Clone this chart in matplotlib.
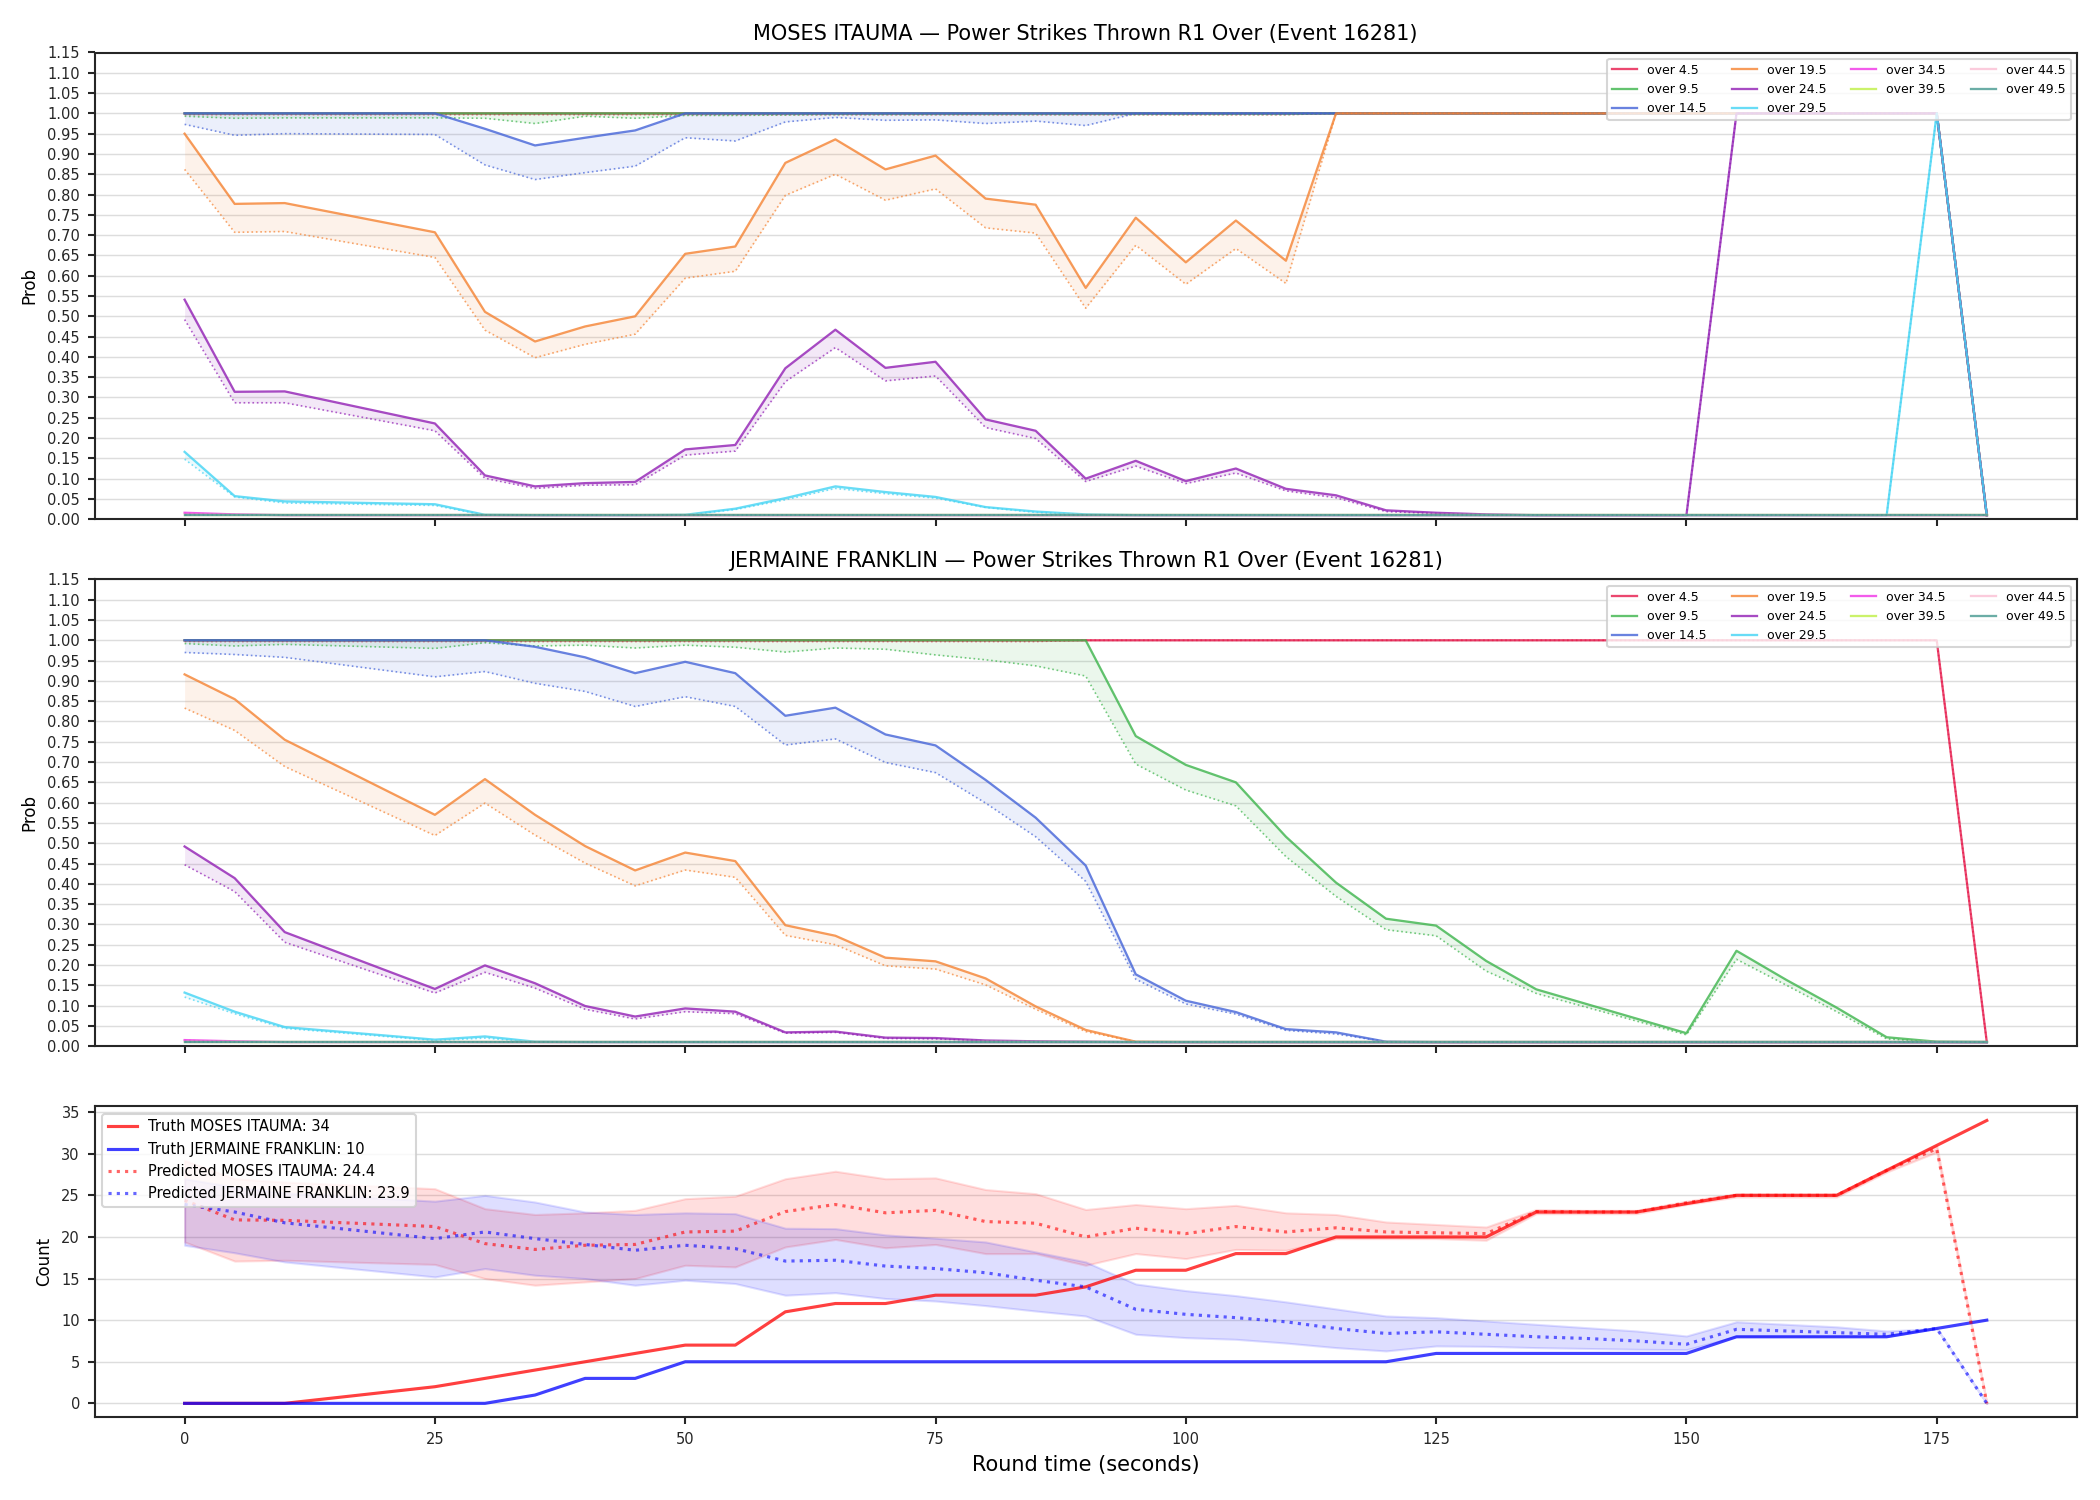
import matplotlib
matplotlib.use("Agg")
import matplotlib.pyplot as plt
from matplotlib.ticker import MultipleLocator, FormatStrFormatter

# round time samples (15 and 20 are missing in the source)
times = [0, 5, 10, 25, 30, 35, 40, 45, 50, 55, 60, 65, 70, 75, 80, 85, 90, 95, 100,
         105, 110, 115, 120, 125, 130, 135, 140, 145, 150, 155, 160, 165, 170, 175, 180]

lines = ["over 4.5", "over 9.5", "over 14.5", "over 19.5", "over 24.5",
         "over 29.5", "over 34.5", "over 39.5", "over 44.5", "over 49.5"]
line_colors = ["#e6194B", "#3cb44b", "#4363d8", "#f58231", "#911eb4",
               "#42d4f4", "#f032e6", "#bfef45", "#fabed4", "#469990"]

floor = [0.01, 0.01, 0.01, 0.01, 0.01, 0.01, 0.01, 0.01, 0.01, 0.01, 0.01, 0.01,
         0.01, 0.01, 0.01, 0.01, 0.01, 0.01, 0.01, 0.01, 0.01, 0.01, 0.01, 0.01,
         0.01, 0.01, 0.01, 0.01, 0.01, 0.01, 0.01, 0.01, 0.01, 0.01, 0.01]

# ---- MOSES ITAUMA: live prob (solid) and pre-fight prob (dotted) ----
moses_live = {
    "over 4.5": [1, 1, 1, 1, 1, 1, 1, 1, 1, 1, 1, 1, 1, 1, 1, 1, 1, 1, 1, 1, 1, 1, 1, 1,
                 1, 1, 1, 1, 1, 1, 1, 1, 1, 1, 0.01],
    "over 9.5": [1, 1, 1, 1, 1, 1, 1, 1, 1, 1, 1, 1, 1, 1, 1, 1, 1, 1, 1, 1, 1, 1, 1, 1,
                 1, 1, 1, 1, 1, 1, 1, 1, 1, 1, 0.01],
    "over 14.5": [1, 1, 1, 1, 0.962, 0.921, 0.940, 0.958, 1, 1, 1, 1, 1, 1, 1, 1, 1, 1,
                  1, 1, 1, 1, 1, 1, 1, 1, 1, 1, 1, 1, 1, 1, 1, 1, 0.01],
    "over 19.5": [0.950, 0.777, 0.779, 0.707, 0.511, 0.438, 0.475, 0.500, 0.654, 0.672,
                  0.878, 0.936, 0.862, 0.896, 0.790, 0.775, 0.570, 0.743, 0.633, 0.736,
                  0.637, 1, 1, 1, 1, 1, 1, 1, 1, 1, 1, 1, 1, 1, 0.01],
    "over 24.5": [0.541, 0.314, 0.315, 0.236, 0.108, 0.081, 0.089, 0.092, 0.172, 0.183,
                  0.372, 0.467, 0.373, 0.388, 0.246, 0.218, 0.100, 0.144, 0.094, 0.125,
                  0.075, 0.059, 0.022, 0.016, 0.012, 0.01, 0.01, 0.01, 0.01, 1, 1, 1, 1,
                  1, 0.01],
    "over 29.5": [0.166, 0.057, 0.044, 0.037, 0.011, 0.01, 0.01, 0.01, 0.011, 0.026,
                  0.052, 0.081, 0.067, 0.055, 0.030, 0.019, 0.012, 0.01, 0.01, 0.01,
                  0.01, 0.01, 0.01, 0.01, 0.01, 0.01, 0.01, 0.01, 0.01, 0.01, 0.01, 0.01,
                  0.01, 1, 0.01],
    "over 34.5": [0.016, 0.012, 0.01, 0.01, 0.01, 0.01, 0.01, 0.01, 0.01, 0.01, 0.01,
                  0.01, 0.01, 0.01, 0.01, 0.01, 0.01, 0.01, 0.01, 0.01, 0.01, 0.01, 0.01,
                  0.01, 0.01, 0.01, 0.01, 0.01, 0.01, 0.01, 0.01, 0.01, 0.01, 0.01, 0.01],
    "over 39.5": floor,
    "over 44.5": floor,
    "over 49.5": floor,
}
moses_pre = {
    "over 4.5": [0.997, 0.997, 0.997, 0.997, 0.997, 0.997, 0.997, 0.997, 0.997, 0.997,
                 0.997, 0.997, 0.997, 0.997, 0.997, 0.997, 0.997, 0.997, 0.997, 0.997,
                 0.997, 1, 1, 1, 1, 1, 1, 1, 1, 1, 1, 1, 1, 1, 0.01],
    "over 9.5": [0.993, 0.988, 0.989, 0.989, 0.988, 0.975, 0.993, 0.988, 0.995, 0.995,
                 0.996, 0.997, 0.997, 0.997, 0.997, 0.997, 0.997, 0.997, 0.997, 0.997,
                 0.997, 1, 1, 1, 1, 1, 1, 1, 1, 1, 1, 1, 1, 1, 0.01],
    "over 14.5": [0.973, 0.946, 0.950, 0.948, 0.873, 0.837, 0.854, 0.870, 0.940, 0.932,
                  0.979, 0.990, 0.983, 0.984, 0.975, 0.981, 0.970, 1, 1, 1, 1, 1, 1, 1,
                  1, 1, 1, 1, 1, 1, 1, 1, 1, 1, 0.01],
    "over 19.5": [0.862, 0.707, 0.709, 0.645, 0.466, 0.398, 0.431, 0.456, 0.594, 0.611,
                  0.798, 0.850, 0.786, 0.814, 0.718, 0.705, 0.520, 0.675, 0.579, 0.667,
                  0.581, 1, 1, 1, 1, 1, 1, 1, 1, 1, 1, 1, 1, 1, 0.01],
    "over 24.5": [0.492, 0.287, 0.287, 0.218, 0.101, 0.076, 0.084, 0.085, 0.158, 0.168,
                  0.339, 0.423, 0.341, 0.353, 0.226, 0.199, 0.093, 0.131, 0.088, 0.114,
                  0.070, 0.053, 0.019, 0.014, 0.011, 0.01, 0.01, 0.01, 0.01, 1, 1, 1, 1,
                  1, 0.01],
    "over 29.5": [0.148, 0.055, 0.040, 0.034, 0.010, 0.01, 0.01, 0.01, 0.010, 0.024,
                  0.048, 0.076, 0.063, 0.052, 0.029, 0.017, 0.011, 0.01, 0.01, 0.01,
                  0.01, 0.01, 0.01, 0.01, 0.01, 0.01, 0.01, 0.01, 0.01, 0.01, 0.01, 0.01,
                  0.01, 1, 0.01],
    "over 34.5": [0.014, 0.011, 0.01, 0.01, 0.01, 0.01, 0.01, 0.01, 0.01, 0.01, 0.01,
                  0.01, 0.01, 0.01, 0.01, 0.01, 0.01, 0.01, 0.01, 0.01, 0.01, 0.01, 0.01,
                  0.01, 0.01, 0.01, 0.01, 0.01, 0.01, 0.01, 0.01, 0.01, 0.01, 0.01, 0.01],
    "over 39.5": floor,
    "over 44.5": floor,
    "over 49.5": floor,
}

# ---- JERMAINE FRANKLIN ----
jermaine_live = {
    "over 4.5": [1, 1, 1, 1, 1, 1, 1, 1, 1, 1, 1, 1, 1, 1, 1, 1, 1, 1, 1, 1, 1, 1, 1, 1,
                 1, 1, 1, 1, 1, 1, 1, 1, 1, 1, 0.01],
    "over 9.5": [1, 1, 1, 1, 1, 1, 1, 1, 1, 1, 1, 1, 1, 1, 1, 1, 1, 0.764, 0.693, 0.650,
                 0.516, 0.403, 0.314, 0.297, 0.210, 0.140, 0.104, 0.068, 0.032, 0.235,
                 0.163, 0.095, 0.022, 0.011, 0.01],
    "over 14.5": [1, 1, 1, 1, 1, 0.984, 0.958, 0.919, 0.947, 0.919, 0.814, 0.834, 0.768,
                  0.741, 0.656, 0.563, 0.445, 0.177, 0.112, 0.084, 0.042, 0.034, 0.011,
                  0.01, 0.01, 0.01, 0.01, 0.01, 0.01, 0.01, 0.01, 0.01, 0.01, 0.01, 0.01],
    "over 19.5": [0.916, 0.855, 0.755, 0.570, 0.658, 0.570, 0.493, 0.433, 0.477, 0.456,
                  0.298, 0.272, 0.218, 0.209, 0.167, 0.098, 0.040, 0.011, 0.01, 0.01,
                  0.01, 0.01, 0.01, 0.01, 0.01, 0.01, 0.01, 0.01, 0.01, 0.01, 0.01, 0.01,
                  0.01, 0.01, 0.01],
    "over 24.5": [0.492, 0.414, 0.281, 0.141, 0.199, 0.155, 0.099, 0.073, 0.093, 0.085,
                  0.034, 0.036, 0.021, 0.020, 0.014, 0.012, 0.011, 0.01, 0.01, 0.01,
                  0.01, 0.01, 0.01, 0.01, 0.01, 0.01, 0.01, 0.01, 0.01, 0.01, 0.01, 0.01,
                  0.01, 0.01, 0.01],
    "over 29.5": [0.132, 0.085, 0.047, 0.016, 0.024, 0.011, 0.01, 0.01, 0.01, 0.01, 0.01,
                  0.01, 0.01, 0.01, 0.01, 0.01, 0.01, 0.01, 0.01, 0.01, 0.01, 0.01, 0.01,
                  0.01, 0.01, 0.01, 0.01, 0.01, 0.01, 0.01, 0.01, 0.01, 0.01, 0.01, 0.01],
    "over 34.5": [0.015, 0.012, 0.01, 0.01, 0.01, 0.01, 0.01, 0.01, 0.01, 0.01, 0.01,
                  0.01, 0.01, 0.01, 0.01, 0.01, 0.01, 0.01, 0.01, 0.01, 0.01, 0.01, 0.01,
                  0.01, 0.01, 0.01, 0.01, 0.01, 0.01, 0.01, 0.01, 0.01, 0.01, 0.01, 0.01],
    "over 39.5": floor,
    "over 44.5": floor,
    "over 49.5": floor,
}
jermaine_pre = {
    "over 4.5": [0.997, 0.997, 0.997, 0.997, 0.997, 0.997, 0.997, 0.997, 0.997, 0.997,
                 0.997, 0.997, 0.997, 0.997, 0.997, 0.997, 1, 1, 1, 1, 1, 1, 1, 1, 1, 1,
                 1, 1, 1, 1, 1, 1, 1, 1, 0.01],
    "over 9.5": [0.992, 0.986, 0.990, 0.980, 0.994, 0.986, 0.988, 0.981, 0.988, 0.983,
                 0.971, 0.981, 0.978, 0.964, 0.952, 0.937, 0.912, 0.695, 0.631, 0.592,
                 0.467, 0.369, 0.287, 0.272, 0.185, 0.130, 0.096, 0.062, 0.028, 0.214,
                 0.150, 0.085, 0.018, 0.01, 0.01],
    "over 14.5": [0.970, 0.965, 0.958, 0.910, 0.923, 0.894, 0.874, 0.837, 0.861, 0.837,
                  0.742, 0.757, 0.699, 0.674, 0.599, 0.516, 0.406, 0.165, 0.104, 0.079,
                  0.039, 0.030, 0.011, 0.01, 0.01, 0.01, 0.01, 0.01, 0.01, 0.01, 0.01,
                  0.01, 0.01, 0.01, 0.01],
    "over 19.5": [0.833, 0.778, 0.689, 0.519, 0.599, 0.520, 0.451, 0.395, 0.434, 0.416,
                  0.273, 0.250, 0.198, 0.190, 0.151, 0.091, 0.036, 0.011, 0.01, 0.01,
                  0.01, 0.01, 0.01, 0.01, 0.01, 0.01, 0.01, 0.01, 0.01, 0.01, 0.01, 0.01,
                  0.01, 0.01, 0.01],
    "over 24.5": [0.447, 0.381, 0.256, 0.131, 0.182, 0.143, 0.091, 0.067, 0.085, 0.080,
                  0.032, 0.034, 0.019, 0.018, 0.013, 0.011, 0.010, 0.01, 0.01, 0.01,
                  0.01, 0.01, 0.01, 0.01, 0.01, 0.01, 0.01, 0.01, 0.01, 0.01, 0.01, 0.01,
                  0.01, 0.01, 0.01],
    "over 29.5": [0.121, 0.080, 0.044, 0.014, 0.020, 0.010, 0.01, 0.01, 0.01, 0.01, 0.01,
                  0.01, 0.01, 0.01, 0.01, 0.01, 0.01, 0.01, 0.01, 0.01, 0.01, 0.01, 0.01,
                  0.01, 0.01, 0.01, 0.01, 0.01, 0.01, 0.01, 0.01, 0.01, 0.01, 0.01, 0.01],
    "over 34.5": [0.014, 0.011, 0.01, 0.01, 0.01, 0.01, 0.01, 0.01, 0.01, 0.01, 0.01,
                  0.01, 0.01, 0.01, 0.01, 0.01, 0.01, 0.01, 0.01, 0.01, 0.01, 0.01, 0.01,
                  0.01, 0.01, 0.01, 0.01, 0.01, 0.01, 0.01, 0.01, 0.01, 0.01, 0.01, 0.01],
    "over 39.5": floor,
    "over 44.5": floor,
    "over 49.5": floor,
}

# ---- counts ----
truth_moses = [0, 0, 0, 2, 3, 4, 5, 6, 7, 7, 11, 12, 12, 13, 13, 13, 14, 16, 16, 18, 18,
               20, 20, 20, 20, 23, 23, 23, 24, 25, 25, 25, 28, 31, 34]
truth_jermaine = [0, 0, 0, 0, 0, 1, 3, 3, 5, 5, 5, 5, 5, 5, 5, 5, 5, 5, 5, 5, 5, 5, 5,
                  6, 6, 6, 6, 6, 6, 8, 8, 8, 8, 9, 10]
pred_moses = [24.4, 22.05, 22.0, 21.25, 19.2, 18.5, 19.0, 19.1, 20.6, 20.7, 23.05, 23.9,
              22.9, 23.2, 21.85, 21.65, 20.0, 21.05, 20.4, 21.25, 20.6, 21.1, 20.6, 20.5,
              20.4, 23.05, 23.0, 23.0, 24.1, 25.0, 25.0, 25.0, 28.0, 30.6, 0.0]
pred_jermaine = [23.9, 23.0, 21.7, 19.8, 20.6, 19.8, 19.1, 18.4, 19.0, 18.6, 17.1, 17.2,
                 16.5, 16.2, 15.7, 14.8, 14.0, 11.3, 10.7, 10.3, 9.8, 9.0, 8.4, 8.6, 8.3,
                 8.0, 7.8, 7.5, 7.1, 8.9, 8.7, 8.5, 8.3, 9.0, 0.0]
moses_hi = [29.2, 27.0, 26.6, 25.8, 23.4, 22.7, 22.9, 23.2, 24.6, 24.9, 27.0, 27.9, 27.0,
            27.1, 25.7, 25.2, 23.3, 23.9, 23.4, 23.8, 22.9, 22.7, 21.8, 21.5, 21.2, 23.3,
            23.2, 23.2, 24.3, 25.2, 25.2, 25.2, 28.2, 31.0, 0.0]
moses_lo = [19.4, 17.1, 17.2, 16.7, 15.0, 14.2, 14.6, 15.0, 16.6, 16.4, 18.8, 19.7, 18.7,
            19.1, 18.0, 18.0, 16.6, 18.0, 17.4, 18.5, 18.4, 19.8, 19.8, 19.8, 19.6, 22.8,
            22.8, 22.8, 23.9, 24.8, 24.8, 24.8, 27.8, 30.2, 0.0]
jermaine_hi = [27.0, 26.0, 25.3, 24.3, 25.0, 24.2, 23.0, 22.7, 22.9, 22.8, 21.05, 21.0,
               20.25, 19.85, 19.4, 18.2, 17.0, 14.35, 13.55, 12.95, 12.2, 11.35, 10.5,
               10.3, 9.9, 9.5, 9.1, 8.7, 8.1, 9.8, 9.5, 9.2, 8.7, 9.0, 0.0]
jermaine_lo = [19.0, 18.1, 17.0, 15.2, 16.2, 15.4, 15.0, 14.2, 14.8, 14.4, 13.0, 13.3,
               12.6, 12.3, 11.75, 11.1, 10.5, 8.3, 7.9, 7.7, 7.25, 6.7, 6.3, 6.9, 6.85,
               6.7, 6.6, 6.5, 6.45, 8.05, 8.05, 8.05, 8.05, 9.0, 0.0]

edge = "#262626"


def style_axis(ax):
    for s in ax.spines.values():
        s.set_color(edge)
        s.set_linewidth(1.0)
    ax.tick_params(colors=edge, width=1.0, length=3.5, labelsize=7)
    ax.grid(axis="y", color="#dddddd", linewidth=0.7)
    ax.set_axisbelow(True)


def prob_panel(ax, live, pre, name):
    for lab, col in zip(lines, line_colors):
        ax.plot(times, live[lab], color=col, lw=1.1, alpha=0.8, label=lab)
        ax.plot(times, pre[lab], color=col, lw=0.8, ls=":", alpha=0.7)
        ax.fill_between(times, pre[lab], live[lab], color=col, alpha=0.1, lw=0)
    ax.set_ylim(0, 1.15)
    ax.yaxis.set_major_locator(MultipleLocator(0.05))
    ax.yaxis.set_major_formatter(FormatStrFormatter("%.2f"))
    ax.set_ylabel("Prob", fontsize=8)
    ax.set_title(f"{name} \u2014 Power Strikes Thrown R1 Over (Event 16281)", fontsize=10)
    ax.legend(loc="upper right", ncol=4, fontsize=6, framealpha=0.8)
    style_axis(ax)


fig, axes = plt.subplots(3, 1, figsize=(14, 10), dpi=150, sharex=True,
                         gridspec_kw={"height_ratios": [3, 3, 2]})
fig.subplots_adjust(left=0.045, right=0.989, top=0.965, bottom=0.055, hspace=0.145)

prob_panel(axes[0], moses_live, moses_pre, "MOSES ITAUMA")
prob_panel(axes[1], jermaine_live, jermaine_pre, "JERMAINE FRANKLIN")

ax = axes[2]
ax.plot(times, truth_moses, color="red", lw=1.5, alpha=0.75, label="Truth MOSES ITAUMA: 34")
ax.plot(times, truth_jermaine, color="blue", lw=1.5, alpha=0.75,
        label="Truth JERMAINE FRANKLIN: 10")
ax.plot(times, pred_moses, color="red", lw=1.5, ls=":", alpha=0.6,
        label="Predicted MOSES ITAUMA: 24.4")
ax.fill_between(times, moses_lo, moses_hi, color="red", alpha=0.13)
ax.plot(times, pred_jermaine, color="blue", lw=1.5, ls=":", alpha=0.6,
        label="Predicted JERMAINE FRANKLIN: 23.9")
ax.fill_between(times, jermaine_lo, jermaine_hi, color="blue", alpha=0.13)
ax.set_ylabel("Count", fontsize=8)
ax.set_xlabel("Round time (seconds)", fontsize=10)
ax.xaxis.set_major_locator(MultipleLocator(25))
ax.legend(loc="upper left", fontsize=7, framealpha=0.8)
style_axis(ax)

fig.savefig("out.png", dpi=150)
